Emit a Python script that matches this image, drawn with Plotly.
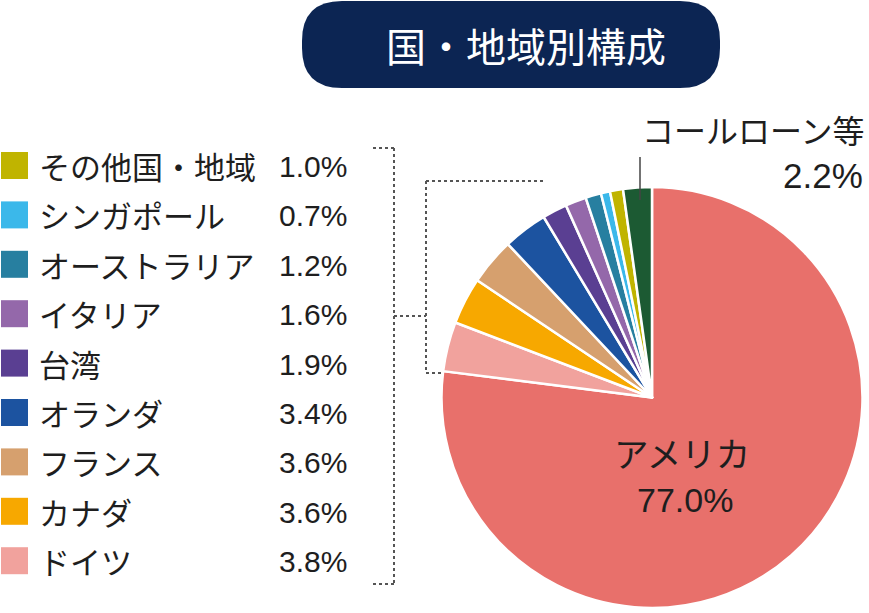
import plotly.graph_objects as go

W, H = 869, 613

# ---- data ----
countries = ["アメリカ", "ドイツ", "カナダ", "フランス", "オランダ", "台湾",
             "イタリア", "オーストラリア", "シンガポール", "その他国・地域", "コールローン等"]
values = [77.0, 3.8, 3.6, 3.6, 3.4, 1.9, 1.6, 1.2, 0.7, 1.0, 2.2]
colors = ["#E8706B", "#F1A29D", "#F7A800", "#D6A06E", "#1C53A0", "#5A3F92",
          "#9468AA", "#277FA0", "#3BB8EA", "#C0B400", "#1C5A33"]
title_text = "国・地域別構成"

FONT = "Noto Sans CJK JP, Noto Sans, sans-serif"
NUMFONT = "Liberation Sans, Arial, sans-serif"
TXT = "#1E1E1E"


def px(x):
    return x / W


def py(y):
    return 1 - y / H


fig = go.Figure()

fig.add_trace(go.Pie(
    labels=countries,
    values=values,
    sort=False,
    direction="clockwise",
    rotation=0,
    marker=dict(colors=colors, line=dict(color="white", width=2.5)),
    textinfo="none",
    hoverinfo="label+value",
    domain=dict(x=[px(441), px(863)], y=[py(608), py(187)]),
    showlegend=False,
))

shapes = []
annotations = []

# title box (rounded)
x0, x1, y0, y1, r = 302, 720, 1, 88, 40
path = (f"M {px(x0 + r)},{py(y0)} L {px(x1 - r)},{py(y0)} "
        f"Q {px(x1)},{py(y0)} {px(x1)},{py(y0 + r)} L {px(x1)},{py(y1 - r)} "
        f"Q {px(x1)},{py(y1)} {px(x1 - r)},{py(y1)} L {px(x0 + r)},{py(y1)} "
        f"Q {px(x0)},{py(y1)} {px(x0)},{py(y1 - r)} L {px(x0)},{py(y0 + r)} "
        f"Q {px(x0)},{py(y0)} {px(x0 + r)},{py(y0)} Z")
shapes.append(dict(type="path", xref="paper", yref="paper", path=path,
                   fillcolor="#0C2553", line=dict(width=0), layer="below"))
annotations.append(dict(x=px(526), y=py(45), xref="paper", yref="paper",
                        text=title_text, showarrow=False,
                        font=dict(family=FONT, size=40, color="white"),
                        xanchor="center", yanchor="middle"))

# custom legend: rows from top = reversed pie order (excluding first and last)
legend_idx = list(range(1, 10))[::-1]
row0, step = 165.5, 49.4
for k, i in enumerate(legend_idx):
    cy = row0 + k * step
    shapes.append(dict(type="rect", xref="paper", yref="paper",
                       x0=px(1), x1=px(28), y0=py(cy - 13.5), y1=py(cy + 13.5),
                       fillcolor=colors[i], line=dict(width=0)))
    annotations.append(dict(x=px(37), y=py(cy), xref="paper", yref="paper",
                            text=countries[i], showarrow=False,
                            font=dict(family=FONT, size=31, color=TXT),
                            xanchor="left", yanchor="middle"))
    annotations.append(dict(x=px(349), y=py(cy + 1), xref="paper", yref="paper",
                            text=f"{values[i]:.1f}%", showarrow=False,
                            font=dict(family=NUMFONT, size=30, color=TXT),
                            xanchor="right", yanchor="middle"))

# dotted brackets
dot = dict(color="#555555", width=2, dash="dot")
segs = [
    (373, 148, 394, 148), (394, 148, 394, 584), (373, 584, 394, 584),
    (394, 316, 426, 316),
    (426, 181, 545, 181), (426, 181, 426, 373), (426, 373, 444, 373),
]
for (a, b, c, d) in segs:
    shapes.append(dict(type="line", xref="paper", yref="paper",
                       x0=px(a), y0=py(b), x1=px(c), y1=py(d), line=dot))

# leader line for call loan
shapes.append(dict(type="line", xref="paper", yref="paper",
                   x0=px(640), y0=py(157), x1=px(640), y1=py(200),
                   line=dict(color="#444444", width=1.5)))

# pie labels
annotations.append(dict(x=px(682), y=py(452), xref="paper", yref="paper",
                        text=countries[0], showarrow=False,
                        font=dict(family=FONT, size=34.5, color=TXT),
                        xanchor="center", yanchor="middle"))
annotations.append(dict(x=px(685), y=py(500), xref="paper", yref="paper",
                        text=f"{values[0]:.1f}%", showarrow=False,
                        font=dict(family=NUMFONT, size=34, color=TXT),
                        xanchor="center", yanchor="middle"))
annotations.append(dict(x=px(866), y=py(129), xref="paper", yref="paper",
                        text=countries[-1], showarrow=False,
                        font=dict(family=FONT, size=32, color=TXT),
                        xanchor="right", yanchor="middle"))
annotations.append(dict(x=px(865), y=py(175), xref="paper", yref="paper",
                        text=f"{values[-1]:.1f}%", showarrow=False,
                        font=dict(family=NUMFONT, size=35, color=TXT),
                        xanchor="right", yanchor="middle"))

fig.update_layout(
    width=W, height=H,
    margin=dict(l=0, r=0, t=0, b=0),
    paper_bgcolor="white", plot_bgcolor="white",
    shapes=shapes, annotations=annotations,
    showlegend=False,
)

fig.write_html(
    "out.html",
    config={"displayModeBar": False},
    post_script="document.body.style.margin='0';document.body.style.overflow='hidden';",
)
